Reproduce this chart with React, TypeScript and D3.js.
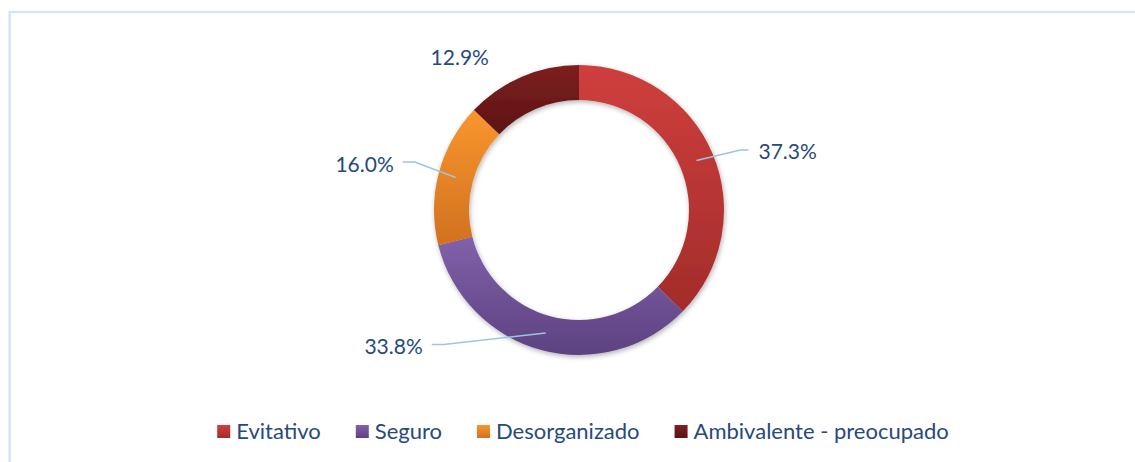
import { useMemo } from "react";
import * as d3 from "d3";

const categories = ["Evitativo", "Seguro", "Desorganizado", "Ambivalente - preocupado"];
const values = [37.3, 33.8, 16.0, 12.9];
const colorTop = ["#cf3f3d", "#8161ab", "#f9962f", "#7e2020"];
const colorBottom = ["#a22c2a", "#5d4280", "#d1711e", "#5b1313"];

// label anchors relative to slice centroid (Excel's own placement)
const labelOffsets: [number, number, string][] = [
  [62, -1, "start"],
  [-123, 21, "end"],
  [-62, -6, "end"],
  [-69, -28, "middle"],
];
const showLeader = [true, true, true, false];

const width = 1135;
const height = 462;
const cx = 579;
const cy = 210;
const outerR = 145;
const innerR = 110;
const labelSize = 21;
const legendSize = 22;
const font = "Lato, 'Open Sans', sans-serif";
const textColor = "#264a7c";

const measure = (txt: string) => {
  const ctx = document.createElement("canvas").getContext("2d");
  if (!ctx) return txt.length * legendSize * 0.5;
  ctx.font = `${legendSize}px Lato`;
  return ctx.measureText(txt).width;
};

export default function App() {
  const pie = d3.pie<number>().sort(null).value((d) => d);
  const arcs = pie(values);
  const arc = d3.arc<d3.PieArcDatum<number>>().innerRadius(innerR).outerRadius(outerR);
  const fmt = d3.format(".1f");

  const legend = useMemo(() => {
    const box = 13, gap = 6, spacing = 35;
    const widths = categories.map(measure);
    const total = d3.sum(widths) + categories.length * (box + gap) + spacing * (categories.length - 1);
    let x = 583 - total / 2;
    return categories.map((c, i) => {
      const item = { x, w: widths[i] };
      x += box + gap + widths[i] + spacing;
      return item;
    });
  }, []);

  return (
    <svg width={width} height={height} style={{ position: "absolute", left: 0, top: 0 }} fontFamily={font}>
      <defs>
        {categories.map((c, i) => (
          <linearGradient key={c} id={`g${i}`} x1="0" y1="0" x2="0" y2="1">
            <stop offset="0%" stopColor={colorTop[i]} />
            <stop offset="100%" stopColor={colorBottom[i]} />
          </linearGradient>
        ))}
        <filter id="shadow" x="-20%" y="-20%" width="140%" height="140%">
          <feDropShadow dx="1" dy="2" stdDeviation="2.5" floodColor="#000" floodOpacity="0.3" />
        </filter>
      </defs>
      <rect x={9.7} y={12} width={width} height={height} fill="#fff" stroke="#d5e3f3" strokeWidth={2.4} />
      <g transform={`translate(${cx},${cy})`}>
        <g filter="url(#shadow)">
          {arcs.map((a, i) => (
            <path key={i} d={arc(a) ?? ""} fill={`url(#g${i})`} />
          ))}
        </g>
        {arcs.map((a, i) => {
          const [x0, y0] = arc.centroid(a);
          const [dx, dy, anchor] = labelOffsets[i];
          const lx = x0 + dx;
          const ly = y0 + dy;
          const mid = ly - 9.5;
          const pts: [number, number][] =
            anchor === "start"
              ? [[x0, y0], [lx - 18, mid], [lx - 10, mid]]
              : [[x0, y0], [lx + 21, mid], [lx + 9, mid]];
          return (
            <g key={i}>
              {showLeader[i] && (
                <path d={d3.line()(pts) ?? ""} fill="none" stroke="#9dc3e6" strokeWidth={1.5} />
              )}
              <text x={lx} y={ly} textAnchor={anchor} fontSize={labelSize} fill={textColor}>
                {fmt(values[i])}%
              </text>
            </g>
          );
        })}
      </g>
      <g className="legend">
        {categories.map((c, i) => (
          <g key={c} transform={`translate(${legend[i].x},425)`}>
            <rect width={13} height={13} fill={`url(#g${i})`} />
            <text x={19} y={14} fontSize={legendSize} fill={textColor}>
              {c}
            </text>
          </g>
        ))}
      </g>
    </svg>
  );
}
